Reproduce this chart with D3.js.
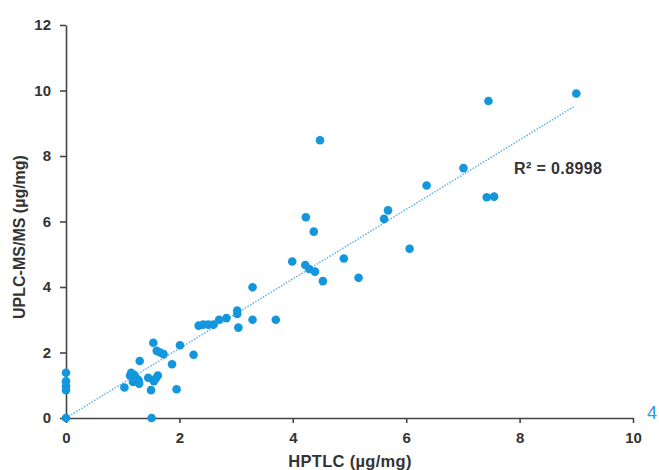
<!DOCTYPE html>
<html>
<head>
<meta charset="utf-8">
<script src="https://cdn.jsdelivr.net/npm/d3@7"></script>
<style>
  body { margin: 0; background: #fff; }
  text { font-family: 'Liberation Sans', Arial, sans-serif; }
  .axis path, .axis line { stroke: #444; stroke-width: 1.6; }
  .axis text { font-size: 15px; font-weight: bold; fill: #333; }
</style>
</head>
<body>
<div id="chart"></div>
<script>
// HPTLC (x) vs UPLC-MS/MS (y), ug/mg
const hptlc = [0, 0, 0, 0, 0, 1.51, 1.03, 1.30, 1.15, 1.20, 1.22, 1.25, 1.28, 1.18, 1.29, 1.13,
  1.50, 1.54, 1.45, 1.58, 1.62, 1.55, 1.60, 1.66, 1.72, 1.87, 1.95, 2.01, 2.25, 2.34, 2.42, 2.51,
  2.60, 2.70, 2.83, 3.02, 3.02, 3.04, 3.29, 3.29, 3.70, 3.99, 4.22, 4.29, 4.39, 4.53, 4.90, 5.16,
  4.23, 4.37, 4.48, 5.61, 5.68, 6.06, 6.36, 7.01, 7.42, 7.55, 7.45, 9.00]
const uplc = [0, 1.38, 1.12, 0.97, 0.85, 0, 0.93, 1.74, 1.38, 1.32, 1.25, 1.20, 1.15, 1.10, 1.05, 1.30,
  0.85, 2.30, 1.23, 1.20, 1.30, 1.12, 2.05, 2.00, 1.95, 1.64, 0.88, 2.22, 1.93, 2.82, 2.85, 2.85,
  2.85, 3.00, 3.05, 3.28, 3.18, 2.76, 3.99, 3.00, 3.00, 4.78, 4.67, 4.55, 4.47, 4.18, 4.87, 4.28,
  6.13, 5.69, 8.48, 6.08, 6.34, 5.17, 7.10, 7.63, 6.74, 6.76, 9.68, 9.91]
const trendX = [0, 8.95]
const trendY = [0, 9.5]
const xTicks = [0, 2, 4, 6, 8, 10]
const yTicks = [0, 2, 4, 6, 8, 10, 12]
const r2Label = 'R² = 0.8998'

const points = hptlc.map((x, i) => ({ x, y: uplc[i] }))
const trend = trendX.map((x, i) => ({ x, y: trendY[i] }))

const W = 659
const H = 470
const margin = { top: 25, right: 26, bottom: 52, left: 66 }
const width = W - margin.left - margin.right
const height = H - margin.top - margin.bottom

const svg = d3.select('#chart').append('svg')
  .attr('width', W)
  .attr('height', H)

const g = svg.append('g')
  .attr('transform', 'translate(' + margin.left + ',' + margin.top + ')')

const xScale = d3.scaleLinear().domain([0, 10]).range([0, width])
const yScale = d3.scaleLinear().domain([0, 12]).range([height, 0])

// trend line
g.append('path')
  .datum(trend)
  .attr('fill', 'none')
  .attr('stroke', '#5fb0ea')
  .attr('stroke-width', 1.5)
  .attr('stroke-dasharray', '1.5,1.5')
  .attr('d', d3.line().x(d => xScale(d.x)).y(d => yScale(d.y)))

// axes
g.append('g')
  .attr('class', 'axis')
  .attr('transform', 'translate(0,' + height + ')')
  .call(d3.axisBottom(xScale).tickValues(xTicks).tickSize(5).tickSizeOuter(0).tickPadding(9))

g.append('g')
  .attr('class', 'axis')
  .call(d3.axisLeft(yScale).tickValues(yTicks).tickSize(6).tickSizeOuter(0).tickPadding(9))

// points
g.selectAll('.dot')
  .data(points)
  .enter().append('circle')
  .attr('class', 'dot')
  .attr('cx', d => xScale(d.x))
  .attr('cy', d => yScale(d.y))
  .attr('r', 4.3)
  .attr('fill', '#1396dc')

g.append('text')
  .attr('x', xScale(7.9))
  .attr('y', yScale(7.45))
  .attr('font-size', 16)
  .attr('letter-spacing', 0.4)
  .attr('font-weight', 'bold')
  .attr('fill', '#333')
  .text(r2Label)

// axis titles
svg.append('text')
  .attr('x', 350)
  .attr('y', 467)
  .attr('text-anchor', 'middle')
  .attr('font-size', 16.5)
  .attr('letter-spacing', 0.3)
  .attr('font-weight', 'bold')
  .attr('fill', '#333')
  .text('HPTLC (µg/mg)')

svg.append('text')
  .attr('transform', 'translate(25,' + 237 + ') rotate(-90)')
  .attr('text-anchor', 'middle')
  .attr('font-size', 16)
  .attr('font-weight', 'bold')
  .attr('fill', '#333')
  .text('UPLC-MS/MS (µg/mg)')

// page number from the source document
svg.append('text')
  .attr('x', 647)
  .attr('y', 419)
  .attr('font-size', 18)
  .attr('fill', '#2b9ae0')
  .text('4')
</script>
</body>
</html>
